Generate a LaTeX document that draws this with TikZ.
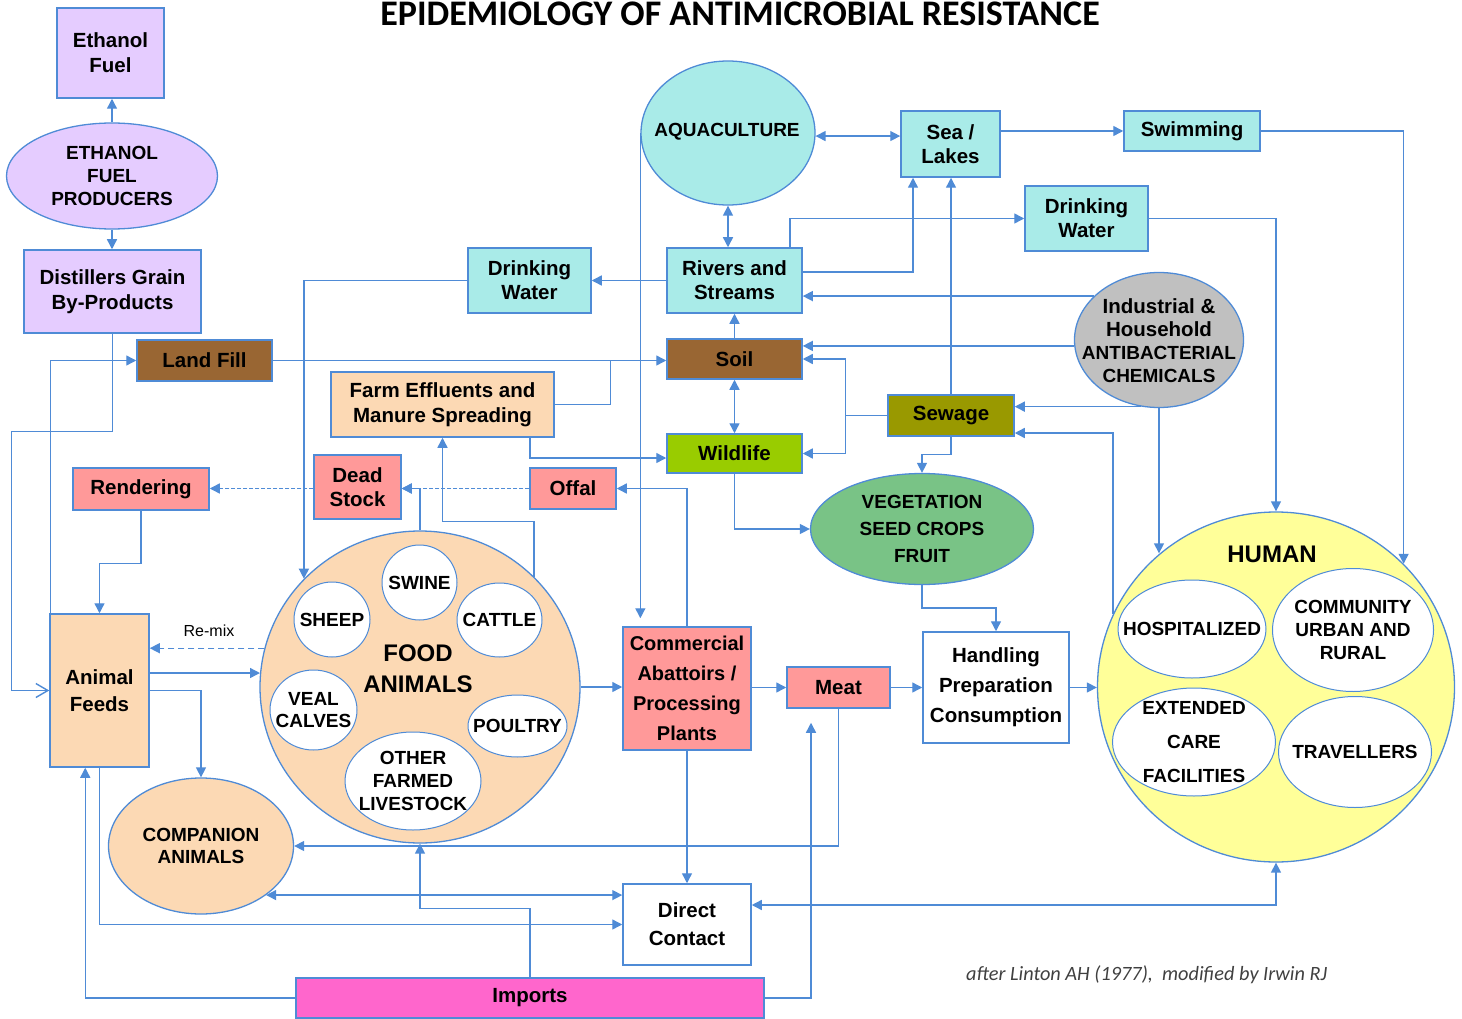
\documentclass[tikz,border=0pt]{standalone}
\usepackage{fontspec}
\setmainfont{Liberation Sans}
\newfontfamily\carlito{Carlito}
\usetikzlibrary{arrows.meta,shapes.geometric,calc}
\definecolor{lb}{HTML}{4F8BD6}
\definecolor{lav}{HTML}{E5CCFF}
\definecolor{cyanb}{HTML}{A9EBE8}
\definecolor{brownb}{HTML}{996633}
\definecolor{salmon}{HTML}{FF9999}
\definecolor{peach}{HTML}{FCD9B4}
\definecolor{limeb}{HTML}{99CC00}
\definecolor{oliveb}{HTML}{999900}
\definecolor{vegg}{HTML}{79C386}
\definecolor{grayb}{HTML}{C0C0C0}
\definecolor{humy}{HTML}{FFFF99}
\definecolor{pinkb}{HTML}{FF66CC}
\newcommand\fA{\bfseries\fontsize{20.5}{24}\selectfont}
\newcommand\fB{\bfseries\fontsize{19}{23}\selectfont}
\begin{document}
\begin{tikzpicture}[x=1pt,y=-1pt,
 conn/.style={draw=lb,line width=1.4pt},
 arr/.style={conn,-{Triangle[length=10pt,width=10pt]}},
 arrb/.style={conn,{Triangle[length=10pt,width=10pt]}-{Triangle[length=10pt,width=10pt]}},
 dsh/.style={arr,dash pattern=on 4pt off 2pt},
 rbox/.style={rectangle,draw=lb,line width=1.5pt,inner sep=0pt,align=center,font=\fA},
 ebox/.style={ellipse,draw=lb,line width=1.3pt,inner sep=0pt},
 sub/.style={ellipse,draw=lb,line width=1pt,fill=white,inner sep=0pt},
 txt/.style={align=center,inner sep=0pt,font=\fB},
]
\useasboundingbox (0,0) rectangle (1462,1019);

% title
\node[anchor=base,inner sep=0pt,font=\carlito\bfseries\fontsize{36}{36}\selectfont] (title) at (740,26) {EPIDEMIOLOGY OF ANTIMICROBIAL RESISTANCE};

% left column
\node[rbox,fill=lav,minimum width=107pt,minimum height=90pt,font=\bfseries\fontsize{20.5}{25}\selectfont] (ethfuel) at (110.5,53) {Ethanol\\Fuel};
\node[ebox,fill=lav,minimum width=211pt,minimum height=106pt] (producers) at (112,176) {};
\node[txt] (producersT) at (producers) {ETHANOL\\FUEL\\PRODUCERS};
\node[rbox,fill=lav,minimum width=177pt,minimum height=83pt,font=\bfseries\fontsize{20.5}{25}\selectfont] (distillers) at (112.5,291.5) {Distillers Grain\\By-Products};
\node[rbox,fill=brownb,minimum width=135pt,minimum height=41pt] (landfill) at (204.5,360.5) {Land Fill};
\node[rbox,fill=salmon,minimum width=136pt,minimum height=42pt] (rendering) at (141,489) {Rendering};
\node[rbox,fill=salmon,minimum width=87pt,minimum height=64pt] (deadstock) at (357.5,487) {Dead\\Stock};
\node[rbox,fill=salmon,minimum width=86pt,minimum height=41pt] (offal) at (573,488.5) {Offal};
\node[rbox,fill=peach,minimum width=223pt,minimum height=65pt,font=\bfseries\fontsize{20.5}{25}\selectfont] (farm) at (442.5,404.5) {Farm Effluents and\\Manure Spreading};

% water column
\node[rbox,fill=cyanb,minimum width=123pt,minimum height=65pt] (dwleft) at (529.5,280.5) {Drinking\\Water};
\node[rbox,fill=cyanb,minimum width=135pt,minimum height=65pt] (rivers) at (734.5,280.5) {Rivers and\\Streams};
\node[rbox,fill=brownb,minimum width=135pt,minimum height=40pt] (soil) at (734.5,359) {Soil};
\node[rbox,fill=limeb,minimum width=135pt,minimum height=39pt] (wildlife) at (734.5,453.5) {Wildlife};
\node[ebox,fill=cyanb,minimum width=174pt,minimum height=144pt] (aqua) at (728,133) {};
\node[txt] (aquaT) at (727,132) {AQUACULTURE};
\node[rbox,fill=cyanb,minimum width=99pt,minimum height=66pt] (sea) at (950.5,144) {Sea /\\Lakes};
\node[rbox,fill=cyanb,minimum width=136pt,minimum height=40pt] (swim) at (1192,131) {Swimming};
\node[rbox,fill=cyanb,minimum width=123pt,minimum height=65pt] (dwright) at (1086.5,218.5) {Drinking\\Water};
\node[ebox,fill=grayb,minimum width=169pt,minimum height=135pt] (industrial) at (1159,340) {};
\node[txt] (industrialT) at (1159,341) {\fA Industrial \&\\\fA Household\\\fB ANTIBACTERIAL\\\fB CHEMICALS};
\node[rbox,fill=oliveb,minimum width=126pt,minimum height=41pt] (sewage) at (951,415.5) {Sewage};
\node[ebox,fill=vegg,minimum width=223pt,minimum height=111pt] (veg) at (922,529) {};
\node[txt,font=\bfseries\fontsize{19}{27}\selectfont] (vegT) at (922,529) {VEGETATION\\SEED CROPS\\FRUIT};

% processing chain
\node[rbox,fill=white,minimum width=146pt,minimum height=111pt,font=\bfseries\fontsize{20.5}{30}\selectfont] (handling) at (996,687.5) {Handling\\Preparation\\Consumption};
\node[rbox,fill=salmon,minimum width=103pt,minimum height=41pt] (meat) at (838.5,687.5) {Meat};
\node[rbox,fill=salmon,minimum width=128pt,minimum height=123pt,font=\bfseries\fontsize{20}{30}\selectfont] (abattoir) at (687,688.5) {Commercial\\Abattoirs /\\Processing\\Plants};

% human
\node[ebox,fill=humy,minimum width=357pt,minimum height=350pt] (human) at (1276,687) {};
\node[txt,font=\bfseries\fontsize{24}{24}\selectfont] (humanT) at (1272,554) {HUMAN};
\node[sub,minimum width=148pt,minimum height=98pt] (hosp) at (1192,629) {};
\node[txt] (hospT) at (hosp) {HOSPITALIZED};
\node[sub,minimum width=161pt,minimum height=123pt] (comm) at (1353,630) {};
\node[txt] (commT) at (comm) {COMMUNITY\\URBAN AND\\RURAL};
\node[sub,minimum width=163pt,minimum height=108pt] (ext) at (1194,742) {};
\node[txt,font=\bfseries\fontsize{19}{34}\selectfont] (extT) at (ext) {EXTENDED\\CARE\\FACILITIES};
\node[sub,minimum width=153pt,minimum height=111pt] (trav) at (1355,752) {};
\node[txt] (travT) at (trav) {TRAVELLERS};

% food animals
\node[ebox,fill=peach,minimum width=320pt,minimum height=312pt] (food) at (420,687) {};
\node[txt,font=\bfseries\fontsize{24}{31}\selectfont] (foodT) at (418,669) {FOOD\\ANIMALS};
\node[sub,minimum width=75pt,minimum height=75pt] (swine) at (419.5,582.5) {};
\node[txt] (swineT) at (swine) {SWINE};
\node[sub,minimum width=76pt,minimum height=75pt] (sheep) at (332,619.5) {};
\node[txt] (sheepT) at (sheep) {SHEEP};
\node[sub,minimum width=85pt,minimum height=74pt] (cattle) at (499.5,620) {};
\node[txt] (cattleT) at (cattle) {CATTLE};
\node[sub,minimum width=87pt,minimum height=80pt] (veal) at (313.5,710) {};
\node[txt,font=\bfseries\fontsize{19}{22}\selectfont] (vealT) at (veal) {VEAL\\CALVES};
\node[sub,minimum width=99pt,minimum height=62pt] (poultry) at (517.5,726) {};
\node[txt] (poultryT) at (poultry) {POULTRY};
\node[sub,minimum width=136pt,minimum height=98pt] (other) at (413,781) {};
\node[txt] (otherT) at (other) {OTHER\\FARMED\\LIVESTOCK};

\node[ebox,fill=peach,minimum width=185pt,minimum height=136pt] (companion) at (201,846) {};
\node[txt,font=\bfseries\fontsize{19}{22}\selectfont] (companionT) at (companion) {COMPANION\\ANIMALS};
\node[rbox,fill=peach,minimum width=99pt,minimum height=153pt,font=\bfseries\fontsize{20.5}{27}\selectfont] (feeds) at (99.5,690.5) {Animal\\Feeds};
\node[rbox,fill=white,minimum width=128pt,minimum height=81pt,font=\bfseries\fontsize{20.5}{28}\selectfont] (direct) at (687,924.5) {Direct\\Contact};
\node[rbox,fill=pinkb,minimum width=468pt,minimum height=40pt] (imports) at (530,998) {Imports};

\node[inner sep=0pt,font=\fontsize{16}{16}\selectfont] (remix) at (209,631) {Re-mix};
\node[anchor=base west,inner sep=0pt,text=black!75,font=\carlito\itshape\fontsize{20.3}{20}\selectfont] (credit) at (966,980) {after Linton AH (1977),~ modified by Irwin RJ};

% connectors
\draw[arr] (producers.north) -- (producers.north |- ethfuel.south);
\draw[arr] (producers.south) -- (producers.south |- distillers.north);
\draw[conn,-{Straight Barb[length=12pt,width=14pt]}] (distillers.south) -- ++(0,98) -| ([xshift=-38pt]feeds.west) -- (feeds.west);
\draw[arr] ([xshift=1pt]feeds.north west) |- (landfill.west);
\draw[arr] (landfill.east) -- (landfill.east -| soil.west);
\draw[conn] (farm.east) -- ++(56,0) coordinate (fj) -- (fj |- landfill.east);
\draw[arr] ([xshift=87.5pt]farm.south) |- ([yshift=-4.5pt]wildlife.west);
\draw[arr] (rivers.west) -- (dwleft.east);
\draw[arr] (dwleft.west) -| (food.137.2);
\draw[arr] (soil.north) -- (rivers.south);
\draw[arrb] (soil.south) -- (wildlife.north);
\draw[arrb] (aqua.south) -- (aqua.south |- rivers.north);
\draw[arrb] (aqua.-2) -- (aqua.-2 -| sea.west);
\draw[arr] (swim.west -| sea.east) -- (swim.west);
\draw[arr] (swim.east) -| (human.44.5);
\draw[arr] ([yshift=8.5pt]rivers.east) -| ([xshift=-37.5pt]sea.south);
\draw[arr] ([xshift=55.5pt]rivers.north) |- (dwright.west);
\draw[arr] (dwright.east) -| (human.north);
\draw[arr] (industrial.146.6) -- (industrial.146.6 -| rivers.east);
\draw[arr] (industrial.184) -- (industrial.184 -| soil.east);
\path (sewage.west) ++(-42,0) coordinate (sj);
\draw[conn] (sewage.west) -- (sj);
\draw[arr] (sj) |- (soil.east);
\draw[arr] (sj) |- (wildlife.east);
\draw[arr] (sewage.north) -- (sewage.north |- sea.south);
\draw[arr] (industrial.-105) -- (industrial.-105 -| sewage.east);
\draw[arr] (human.156.4) |- ([yshift=-17.5pt]sewage.east);
\draw[arr] (industrial.south) -- (industrial.south |- human.131.1);
\draw[arr] (sewage.south) -- ++(0,18) -| (veg.north);
\draw[arr] (wildlife.south) |- (veg.west);
\draw[arr] (veg.south) -- ++(0,23) -| (handling.north);
\draw[arr] (handling.east) -- (handling.east -| human.west);
\draw[arr] (meat.east) -- (meat.east -| handling.west);
\draw[arr] (abattoir.east |- meat.west) -- (meat.west);
\draw[arr] (food.east) -- (food.east -| abattoir.west);
\draw[arr] (aqua.west) -- ($(abattoir.north -| aqua.west)+(0,-8)$);
\draw[arr] (abattoir.north) |- (offal.east);
\draw[dsh] (offal.west) -- (offal.west -| deadstock.east);
\draw[dsh] (deadstock.west |- offal.west) -- (offal.west -| rendering.east);
\draw[arr] (food.north) |- (offal.west -| deadstock.east);
\draw[arr] (food.44.3) -- ++(0,-55) -| (farm.south);
\draw[arr] (rendering.south) -- ++(0,53) -| (feeds.north);
\draw[arr,dash pattern=on 6pt off 4pt] (food.166.2) -- (food.166.2 -| feeds.east);
\draw[arr] (feeds.east |- food.175.3) -- (food.175.3);
\draw[arr] (feeds.east) -| (companion.north);
\draw[arr] (meat.south) |- (companion.east);
\draw[arr] (imports.north) -- ++(0,-69) -| (food.south);
\draw[arrb] (companion.-37.4) -- (companion.-37.4 -| direct.west);
\draw[arr] (feeds.south) |- (direct.west);
\draw[arr] (abattoir.south) -- (direct.north);
\draw[arrb] (human.south) |- ([yshift=19.5pt]direct.east);
\draw[arr] (imports.west) -| ([xshift=36pt]feeds.south west);
\coordinate (mb) at ($(meat.south)+(-27.5,14)$);
\draw[arr] (imports.east) -| (mb);
\end{tikzpicture}
\end{document}
